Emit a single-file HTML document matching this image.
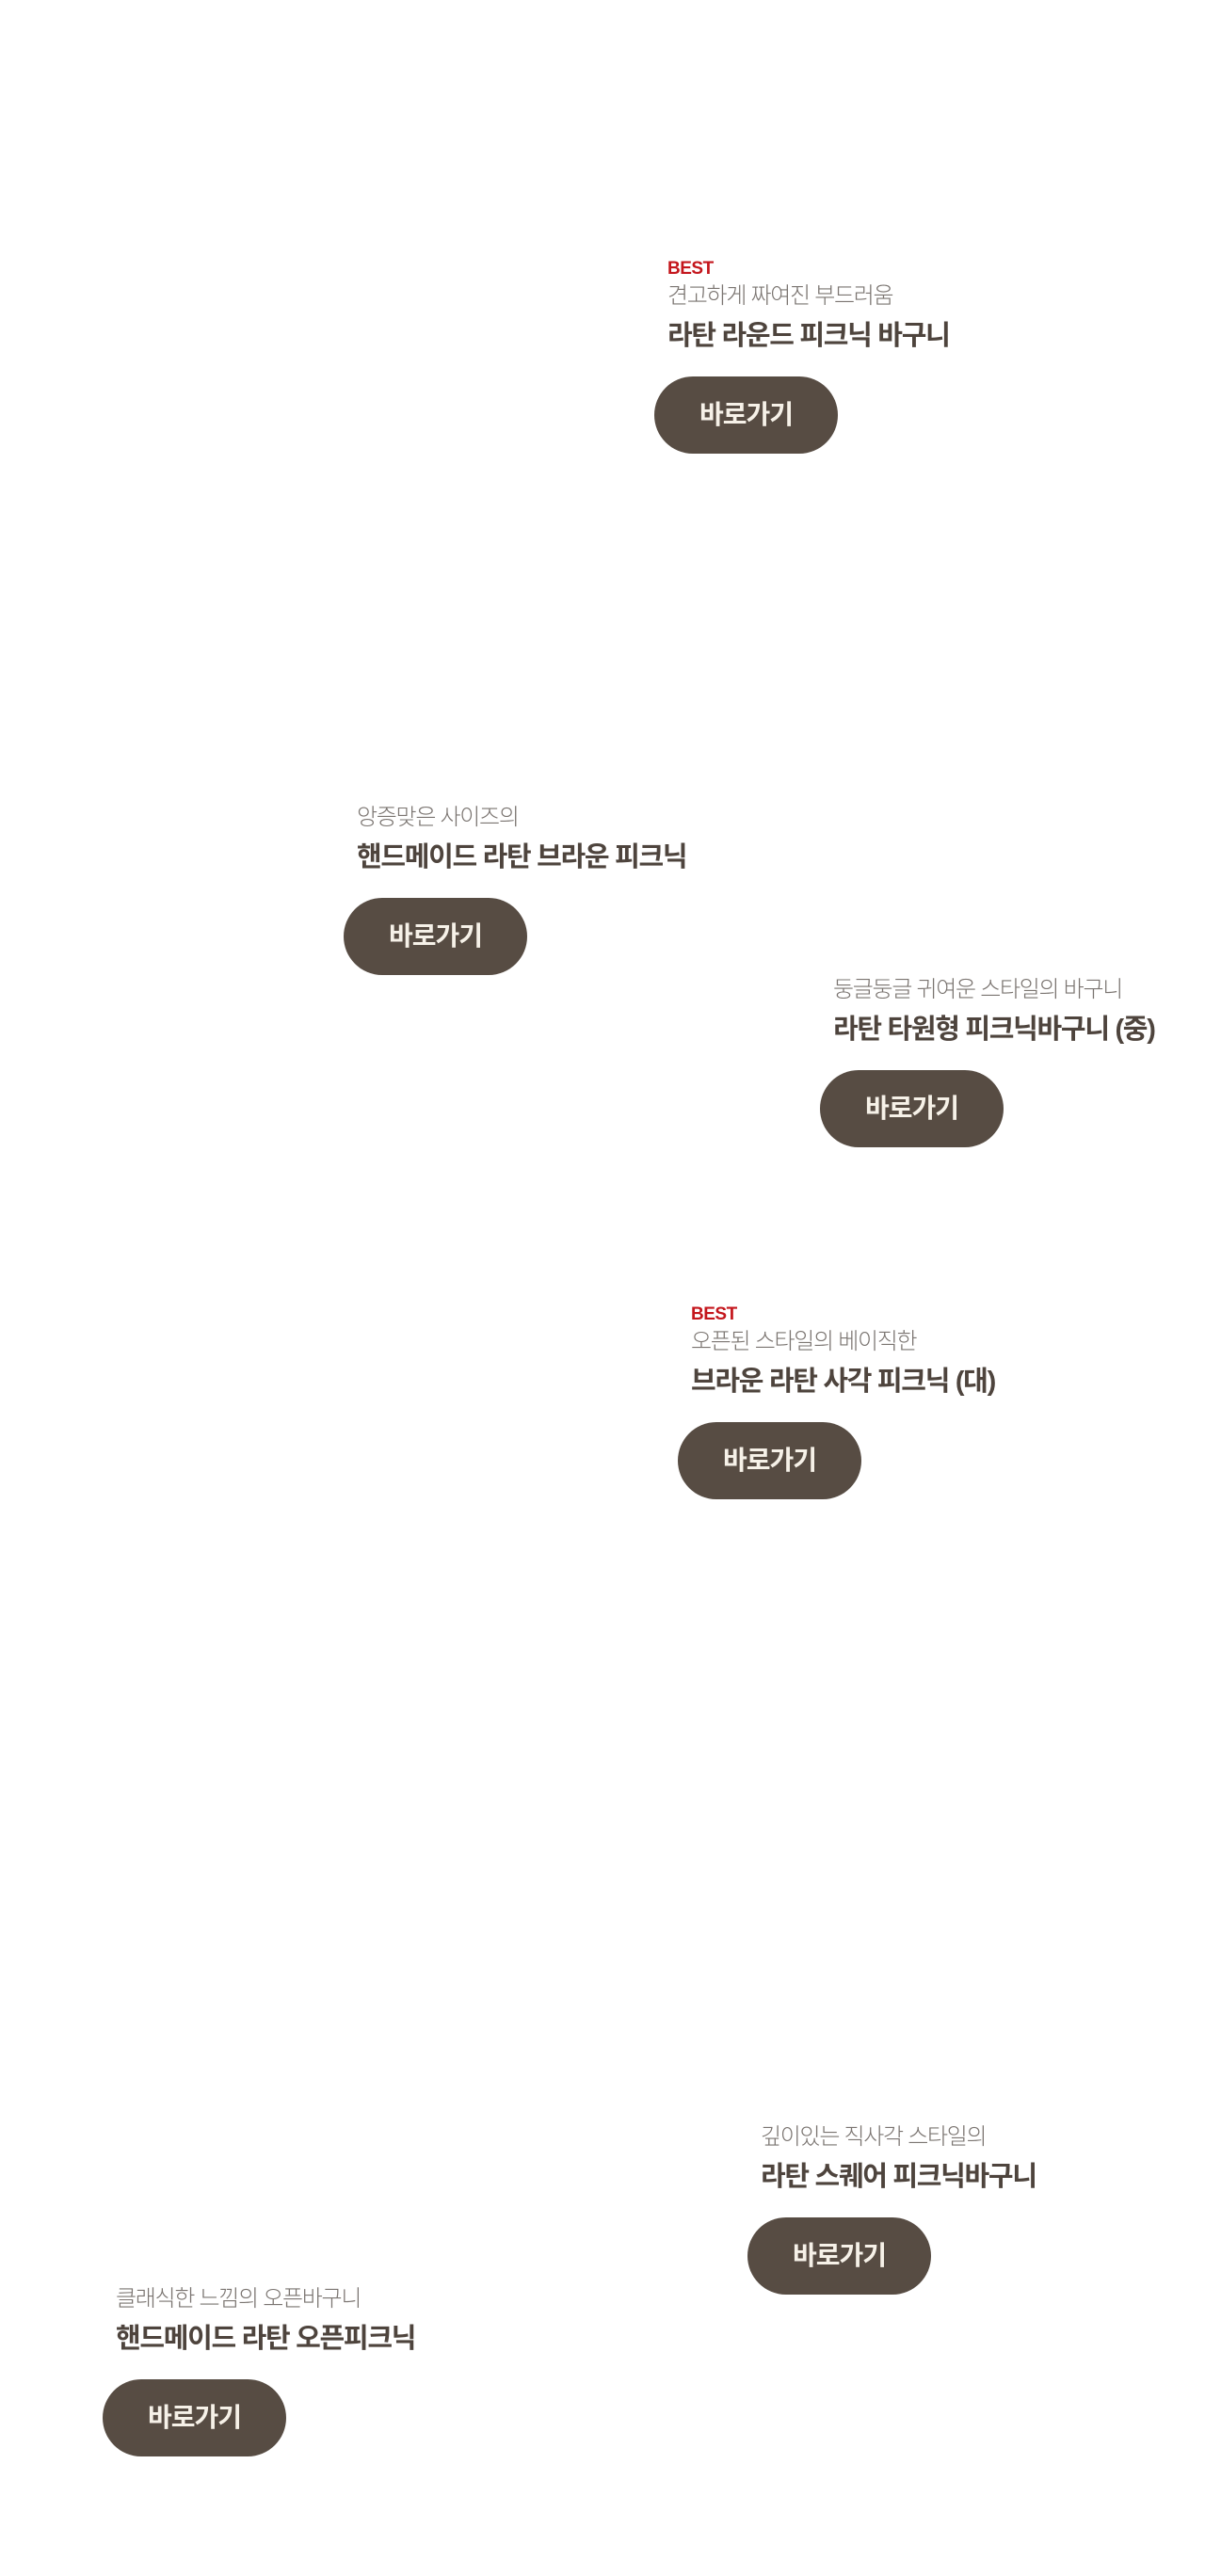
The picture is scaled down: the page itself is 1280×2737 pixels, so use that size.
<!DOCTYPE html>
<html><head><meta charset="utf-8"><style>
html,body{margin:0;padding:0;background:#fff;}
body{width:1280px;height:2737px;position:relative;overflow:hidden;font-family:"Liberation Sans","Noto Sans CJK KR",sans-serif;}
.b{position:absolute;}
.best{position:absolute;top:-26px;left:0;font-size:19px;font-weight:bold;color:#c4161c;line-height:1;font-family:"Liberation Sans",sans-serif;letter-spacing:-0.5px;}
.sub{position:absolute;top:1px;left:0;white-space:nowrap;font-size:24px;font-weight:300;color:#7a7470;line-height:1;letter-spacing:-1.3px;}
.tit{position:absolute;top:41px;left:0;white-space:nowrap;font-size:29px;font-weight:bold;color:#4e443d;line-height:1;letter-spacing:-1.3px;}
.btn{position:absolute;top:98px;left:-14px;width:195px;height:82px;border-radius:41px;background:#574c43;color:#f6f1e8;font-size:28px;font-weight:bold;line-height:82px;text-align:center;letter-spacing:-1px;}
</style></head><body>
<div class="b" style="left:709px;top:302px"><div class="best">BEST</div><div class="sub">견고하게 짜여진 부드러움</div><div class="tit">라탄 라운드 피크닉 바구니</div><div class="btn">바로가기</div></div>
<div class="b" style="left:379px;top:856px"><div class="sub">앙증맞은 사이즈의</div><div class="tit">핸드메이드 라탄 브라운 피크닉</div><div class="btn">바로가기</div></div>
<div class="b" style="left:885px;top:1039px"><div class="sub">둥글둥글 귀여운 스타일의 바구니</div><div class="tit">라탄 타원형 피크닉바구니 (중)</div><div class="btn">바로가기</div></div>
<div class="b" style="left:734px;top:1413px"><div class="best">BEST</div><div class="sub">오픈된 스타일의 베이직한</div><div class="tit">브라운 라탄 사각 피크닉 (대)</div><div class="btn">바로가기</div></div>
<div class="b" style="left:808px;top:2258px"><div class="sub">깊이있는 직사각 스타일의</div><div class="tit">라탄 스퀘어 피크닉바구니</div><div class="btn">바로가기</div></div>
<div class="b" style="left:123px;top:2430px"><div class="sub">클래식한 느낌의 오픈바구니</div><div class="tit">핸드메이드 라탄 오픈피크닉</div><div class="btn">바로가기</div></div>
</body></html>
